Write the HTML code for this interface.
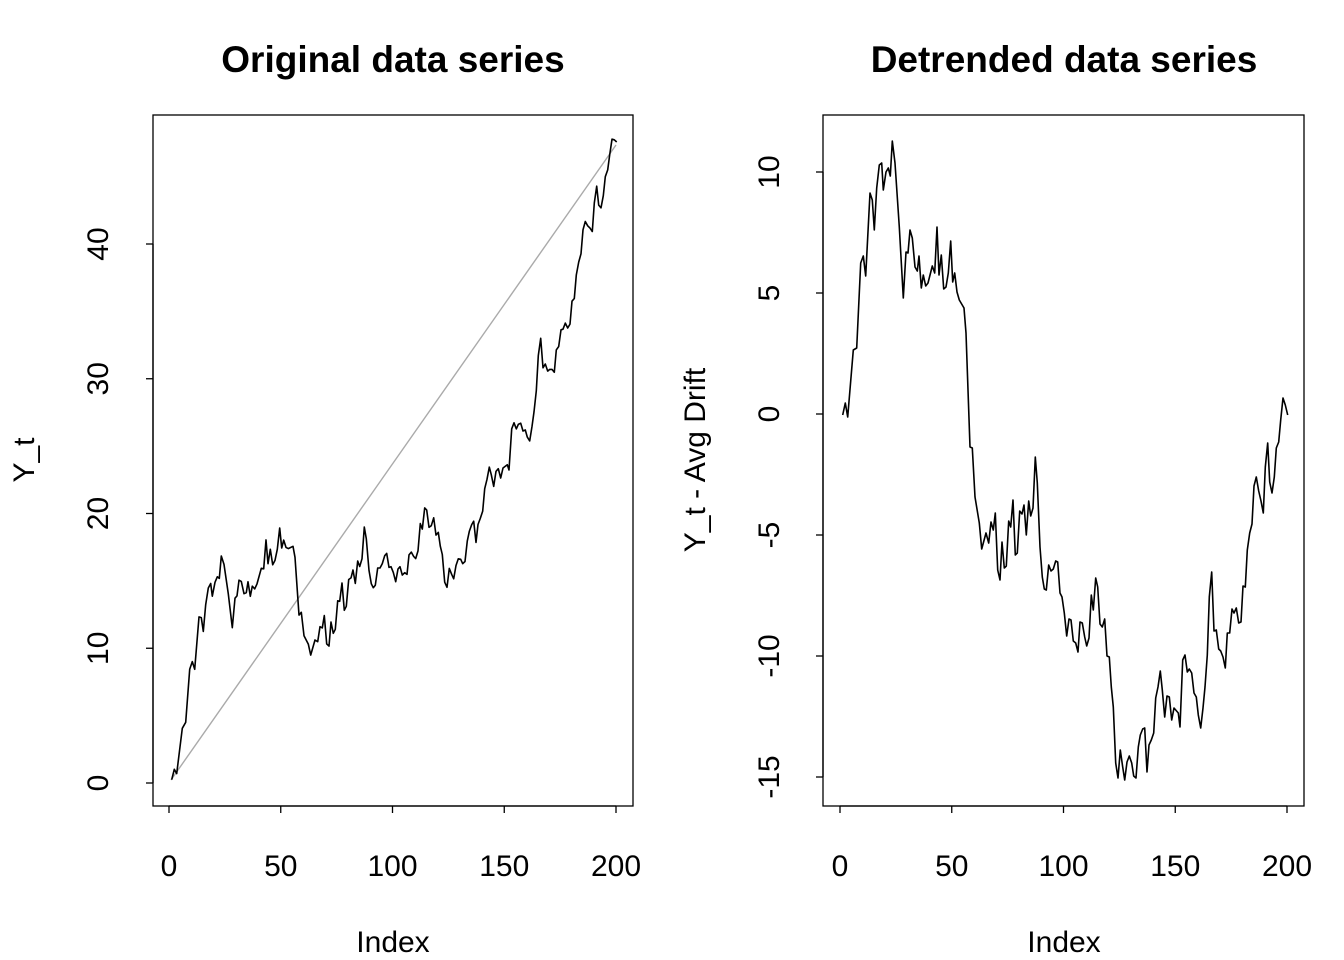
<!DOCTYPE html>
<html><head><meta charset="utf-8"><style>
html,body{margin:0;padding:0;background:#fff;}
svg{display:block;font-family:"Liberation Sans",Arial,sans-serif;}
</style></head><body>
<svg id="s" width="1344" height="960" viewBox="0 0 1344 960" xmlns="http://www.w3.org/2000/svg">
<rect width="1344" height="960" fill="#fff"/>
<g fill="none" stroke="#000" stroke-width="1.3">
<rect x="153" y="115" width="480" height="691"/>
<rect x="823" y="115" width="481" height="691"/>
</g>
<text x="393" y="72" font-size="37" font-weight="bold" text-anchor="middle">Original data series</text>
<text x="1064" y="72" font-size="37" font-weight="bold" text-anchor="middle">Detrended data series</text>
<text x="393" y="952" font-size="30" text-anchor="middle">Index</text>
<text x="1064" y="952" font-size="30" text-anchor="middle">Index</text>
<text transform="translate(34,460) rotate(-90)" font-size="30" text-anchor="middle">Y_t</text>
<text transform="translate(705,460) rotate(-90)" font-size="30" text-anchor="middle">Y_t - Avg Drift</text>
<line x1="171" y1="780" x2="616" y2="145" stroke="#aaa" stroke-width="1.4"/>
<g id="ticks" stroke="#000" stroke-width="1.3"></g>
<g id="labels" font-size="30" text-anchor="middle"></g>
<polyline id="pl" fill="none" stroke="#000" stroke-width="1.6" stroke-linejoin="round"/>
<polyline id="pr" fill="none" stroke="#000" stroke-width="1.6" stroke-linejoin="round"/>
</svg>
<script>
var R=[[842.7,415],[845.3,403],[847.7,417],[853.3,350],[856.7,348],[860.7,263],[863.3,256],[865.7,276],[870,193],[872.3,200],[874.3,230],[876.7,188],[879.3,165],[881.7,163],[883.3,190],[886,172],[888.3,168],[890.3,176],[892.3,141],[895,163],[899.3,227],[903.3,298],[906,252],[908,253],[910,230],[912.3,238],[915,267],[917.3,271],[919,256],[921.3,288],[923.3,275],[925.7,286],[928,283],[932.3,266],[934.7,273],[937,227],[939,275],[941.3,255],[943.7,289],[946,287],[948.3,273],[950.7,241],[952.7,282],[954.7,273],[957,292],[959.3,300],[964,308],[966,333],[970,447],[972.3,448],[975,497],[979.3,523],[981.7,549],[986,533],[988.7,543],[991,522],[993.3,530],[995.3,513],[997.7,570],[1000,580],[1002,542],[1004.3,568],[1006.3,566],[1008.7,521],[1010.7,527],[1013,500],[1015.3,555],[1017.3,553],[1019.7,511],[1022,514],[1024,505],[1026.3,535],[1028.7,501],[1030.7,516],[1033,508],[1035.3,457],[1037.3,483],[1040,547],[1042.3,577],[1044.3,589],[1046.3,590],[1048.7,565],[1051,571],[1053.3,569],[1055.7,561],[1057.7,562],[1060,593],[1062,597],[1064.3,613],[1066.7,636],[1069,619],[1071,620],[1073.3,641],[1075.7,643],[1078,652],[1080,622],[1082.3,623],[1084.7,637],[1086.7,646],[1089,638],[1091.3,595],[1093.3,610],[1095.7,578],[1097.7,587],[1100,624],[1102.3,627],[1104.7,619],[1107,656],[1109.3,657],[1111.3,687],[1113.3,707],[1115.7,763],[1118,778],[1120.3,750],[1122.7,767],[1124.7,780],[1127,762],[1129.3,756],[1131.7,763],[1133.7,776],[1136,778],[1138.3,747],[1140.3,735],[1142.7,729],[1144.7,728],[1147,772],[1149,745],[1151.3,740],[1153.7,733],[1155.7,698],[1158,687],[1160.3,671],[1162.3,690],[1164.7,717],[1167,696],[1169.3,697],[1171.7,720],[1174,708],[1178.3,713],[1180,727],[1182.7,660],[1185,655],[1187.3,672],[1189.3,669],[1191.7,673],[1194,693],[1196.3,697],[1198.3,715],[1200.7,728],[1203,708],[1205,687],[1207.3,655],[1209.3,597],[1211.7,572],[1214,631],[1216.3,630],[1218.7,649],[1220.7,651],[1223,657],[1225.3,668],[1227.3,633],[1229.7,633],[1232,609],[1234,613],[1236.3,608],[1238.7,623],[1241,622],[1243,586],[1245.3,587],[1247.3,550],[1249.7,533],[1252,524],[1254,486],[1256.3,477],[1258.7,491],[1261,501],[1263.3,513],[1265.3,467],[1267.7,443],[1269.7,482],[1272,493],[1274.3,477],[1276.3,448],[1278.7,442],[1280.7,420],[1283,398],[1285.3,405],[1287.7,415]];
var pr=[],pl=[];
R.forEach(function(p){
 var t=(p[0]-840)/2.235, D=(414-p[1])/24.2, Y=D+t*0.2377;
 pr.push(p[0]+","+p[1]);
 pl.push((p[0]-671).toFixed(1)+","+(783-Y*13.475).toFixed(1));
});
document.getElementById('pr').setAttribute('points',pr.join(' '));
document.getElementById('pl').setAttribute('points',pl.join(' '));
var NS="http://www.w3.org/2000/svg",T=document.getElementById('ticks'),L=document.getElementById('labels');
function ln(a,b,c,d){var e=document.createElementNS(NS,'line');e.setAttribute('x1',a);e.setAttribute('y1',b);e.setAttribute('x2',c);e.setAttribute('y2',d);T.appendChild(e);}
function tx(x,y,s,rot){var e=document.createElementNS(NS,'text');e.textContent=s;if(rot){e.setAttribute('transform','translate('+x+','+y+') rotate(-90)');}else{e.setAttribute('x',x);e.setAttribute('y',y);}L.appendChild(e);}
[0,50,100,150,200].forEach(function(v){
 var a=169+v*2.235,b=840+v*2.235;
 ln(a,806,a,813);tx(a,876,v);
 ln(b,806,b,813);tx(b,876,v);
});
ln(169,806,616,806);ln(840,806,1287,806);
[0,10,20,30,40].forEach(function(v){var y=783-v*13.475;ln(146,y,153,y);tx(108,y,v,1);});
ln(153,244,153,783);
[10,5,0,-5,-10,-15].forEach(function(v){var y=414-v*24.2;ln(816,y,823,y);tx(779,y,v,1);});
ln(823,172,823,777);
</script>
</body></html>
